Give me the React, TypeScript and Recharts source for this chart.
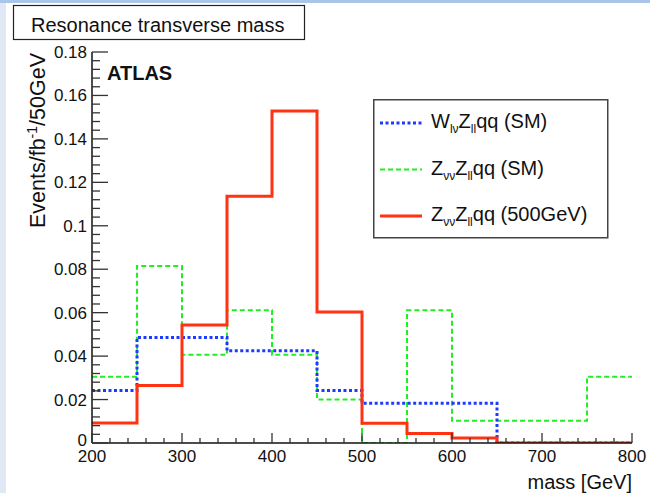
import { ComposedChart, Line, XAxis, YAxis, Legend } from "recharts";

// bin edges of the 50 GeV histogram (last edge closes the final bin)
const binEdges = [200, 250, 300, 350, 400, 450, 500, 550, 600, 650, 700, 750, 800];

// events / fb^-1 / 50 GeV, one value per bin
const wlvZllSM = [0.0242, 0.0486, 0.0486, 0.0425, 0.0425, 0.0242, 0.0183, 0.0183, 0.0183, 0, 0, 0];
const zvvZllSM = [0.0305, 0.0815, 0.0406, 0.0611, 0.0406, 0.02, 0, 0.0611, 0.0103, 0.0103, 0.0103, 0.0305];
const zvvZll500 = [0.0092, 0.0265, 0.0543, 0.1136, 0.1528, 0.0603, 0.0091, 0.0044, 0.0023, 0, 0, 0];

const yMajorTicks = [0, 0.02, 0.04, 0.06, 0.08, 0.1, 0.12, 0.14, 0.16, 0.18];
const xMajorTicks = [200, 300, 400, 500, 600, 700, 800];

const FONT = '"Liberation Sans", Arial, Helvetica, sans-serif';

// ROOT style: 4 minor ticks between y majors, 20 GeV minor ticks on x
const yTicks = Array.from({ length: 46 }, (_, i) => Math.round(i * 0.004 * 1000) / 1000);
const xTicks = Array.from({ length: 31 }, (_, i) => 200 + i * 20);

// step histogram: each edge carries the value of the bin that starts there
const chartData = binEdges.map((mass, i) => {
  const b = Math.min(i, wlvZllSM.length - 1);
  return { mass, wlv: wlvZllSM[b], zvvSM: zvvZllSM[b], zvv500: zvvZll500[b] };
});

const SERIES = [
  { key: "zvvSM", color: "#22ee22", width: 2, dash: "5 3" },
  { key: "wlv", color: "#1b3cff", width: 3, dash: "3 2.5" },
  { key: "zvv500", color: "#ff3312", width: 3, dash: undefined },
];

const LEGEND_ORDER = ["wlv", "zvvSM", "zvv500"];

function YTick(props: any) {
  const { x, y, payload } = props;
  const v = payload.value as number;
  const major = yMajorTicks.some((t) => Math.abs(t - v) < 1e-9);
  return (
    <g>
      <line x1={x} x2={x + (major ? 16 : 8)} y1={y} y2={y} stroke="#333" strokeWidth={1.3} />
      {major && (
        <text x={x - 5} y={y + (v === 0 ? 3 : 6)} textAnchor="end" fontSize={17} fontFamily={FONT} fill="#111">
          {String(Number(v.toFixed(2)))}
        </text>
      )}
    </g>
  );
}

function XTick(props: any) {
  const { x, y, payload } = props;
  const v = payload.value as number;
  const major = xMajorTicks.includes(v);
  return (
    <g>
      <line x1={x} x2={x} y1={y} y2={y - (major ? 10 : 5)} stroke="#333" strokeWidth={1.3} />
      {major && (
        <text x={x} y={y + 19} textAnchor="middle" fontSize={17} fontFamily={FONT} fill="#111">
          {v}
        </text>
      )}
    </g>
  );
}

function legendLabel(key: string, y: number) {
  const sub = { fontSize: 12 };
  if (key === "wlv") {
    return (
      <text x={58} y={y} fontSize={20} fontFamily={FONT} fill="#111">
        W<tspan dy={5} {...sub}>lν</tspan>
        <tspan dy={-5}>Z</tspan>
        <tspan dy={5} {...sub}>ll</tspan>
        <tspan dy={-5}>qq (SM)</tspan>
      </text>
    );
  }
  return (
    <text x={58} y={y} fontSize={20} fontFamily={FONT} fill="#111">
      Z<tspan dy={5} {...sub}>νν</tspan>
      <tspan dy={-5}>Z</tspan>
      <tspan dy={5} {...sub}>ll</tspan>
      <tspan dy={-5}>{key === "zvvSM" ? "qq (SM)" : "qq (500GeV)"}</tspan>
    </text>
  );
}

function HistLegend() {
  return (
    <svg width={236} height={140}>
      <rect x={0.75} y={0.75} width={234} height={138} fill="#fff" stroke="#444" strokeWidth={1.5} />
      {LEGEND_ORDER.map((key, i) => {
        const s = SERIES.find((d) => d.key === key)!;
        const ly = 24 + i * 46.5;
        return (
          <g key={key}>
            <line x1={7} x2={49} y1={ly} y2={ly} stroke={s.color} strokeWidth={s.width} strokeDasharray={s.dash} />
            {legendLabel(key, ly + 5)}
          </g>
        );
      })}
    </svg>
  );
}

export default function App() {
  return (
    <div
      style={{
        position: "absolute",
        left: 0,
        top: 0,
        width: 650,
        height: 493,
        background: "linear-gradient(#a9c5e8, #a9c5e8 3px, #dfe8f4 3px)",
        overflow: "hidden",
      }}
    >
      <div style={{ position: "absolute", left: 6, top: 3, right: 0, bottom: 0, background: "#fff" }} />
      <div style={{ position: "absolute", left: 0, top: 0 }}>
        <ComposedChart width={650} height={493} data={chartData} margin={{ top: 52, right: 18, bottom: 20, left: 32 }}>
          <XAxis
            xAxisId="b"
            dataKey="mass"
            type="number"
            domain={[200, 800]}
            ticks={xTicks}
            interval={0}
            height={30}
            tickSize={0}
            tickMargin={0}
            tick={<XTick />}
            tickLine={false}
            axisLine={{ stroke: "#111", strokeWidth: 1.5 }}
          />
          <XAxis
            xAxisId="t"
            orientation="top"
            dataKey="mass"
            type="number"
            domain={[200, 800]}
            height={0}
            tick={false}
            tickLine={false}
            axisLine={{ stroke: "#111", strokeWidth: 1.5 }}
          />
          <YAxis
            yAxisId="l"
            type="number"
            domain={[0, 0.18]}
            ticks={yTicks}
            interval={0}
            width={60}
            tickSize={0}
            tickMargin={0}
            tick={<YTick />}
            tickLine={false}
            allowDataOverflow
            axisLine={{ stroke: "#111", strokeWidth: 1.5 }}
          />
          <YAxis
            yAxisId="r"
            orientation="right"
            type="number"
            domain={[0, 0.18]}
            width={0}
            tick={false}
            tickLine={false}
            axisLine={{ stroke: "#111", strokeWidth: 1.5 }}
          />
          <Legend
            layout="horizontal"
            verticalAlign="middle"
            align="center"
            content={<HistLegend />}
            wrapperStyle={{ position: "absolute", left: 373, top: 99, width: 236, height: 140 }}
          />
          {SERIES.map((s) => (
            <Line
              key={s.key}
              xAxisId="b"
              yAxisId="l"
              type="stepAfter"
              dataKey={s.key}
              stroke={s.color}
              strokeWidth={s.width}
              strokeDasharray={s.dash}
              dot={false}
              activeDot={false}
              isAnimationActive={false}
            />
          ))}
        </ComposedChart>
      </div>
      <svg width={650} height={493} style={{ position: "absolute", left: 0, top: 0, pointerEvents: "none" }}>
        <rect x={13.5} y={5.5} width={291} height={34} fill="#fff" stroke="#222" strokeWidth={1.2} />
        <text x={31} y={32} fontSize={20} fontFamily={FONT} fill="#111">
          Resonance transverse mass
        </text>
        <text x={107} y={80} fontSize={20} fontWeight="bold" fontFamily={FONT} fill="#111">
          ATLAS
        </text>
        <text x={632} y={489} fontSize={20} textAnchor="end" fontFamily={FONT} fill="#111">
          mass [GeV]
        </text>
        <text
          transform="translate(45,53) rotate(-90)"
          textAnchor="end"
          fontSize={21.5}
          fontFamily={FONT}
          fill="#111"
        >
          Events/fb<tspan dy={-8} fontSize={14}>-1</tspan>
          <tspan dy={8}>/50GeV</tspan>
        </text>
      </svg>
    </div>
  );
}
